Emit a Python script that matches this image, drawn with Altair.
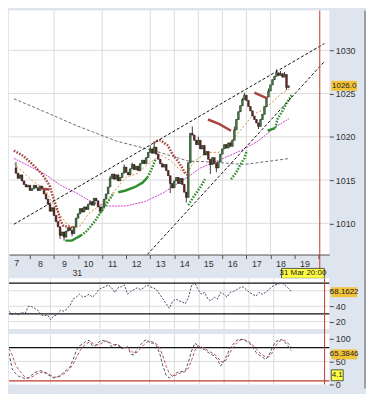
import altair as alt
import pandas as pd

# ---------------- data ----------------
BAR_START = 7 + 25 / 60          # first 5-minute bar, hours of 31 Mar
BAR_STEP = 5 / 60
FIRST_OPEN = 1016.4
closes = [
    1015.8, 1015.2, 1015.6, 1014.9, 1014.5, 1014.2, 1014.4, 1013.8, 1014.0, 1014.4,
    1014.1, 1013.8, 1014.3, 1014.0, 1013.4, 1012.8, 1012.2, 1011.4, 1011.8, 1010.9,
    1010.2, 1009.6, 1008.6, 1009.0, 1008.4, 1009.1, 1009.5, 1009.2, 1008.8, 1009.6,
    1010.6, 1011.1, 1011.7, 1011.3, 1011.9, 1011.6, 1012.2, 1012.5, 1012.1, 1012.9,
    1012.6, 1011.9, 1011.4, 1011.9, 1012.8, 1013.4, 1014.2, 1015.2, 1015.7, 1015.1,
    1015.6, 1014.9, 1015.3, 1015.8, 1016.5, 1015.9, 1015.6, 1016.3, 1016.8, 1016.2,
    1016.6, 1016.1, 1016.9, 1017.3, 1016.9, 1017.6, 1018.2, 1018.6, 1018.1, 1018.8,
    1018.0, 1017.4, 1016.9, 1016.5, 1016.8, 1016.1, 1015.5, 1014.6, 1014.1, 1014.9,
    1015.3, 1014.6, 1015.2, 1014.5, 1013.6, 1013.0, 1017.0, 1020.4, 1020.2, 1019.6,
    1019.1, 1019.6, 1018.6, 1019.0, 1017.9, 1018.3, 1017.4, 1016.8, 1017.6, 1016.9,
    1016.4, 1017.1, 1018.0, 1018.6, 1019.1, 1018.7, 1019.3, 1018.9, 1019.6, 1020.8,
    1022.0, 1022.9, 1023.6, 1024.3, 1024.8, 1024.2, 1023.5, 1023.0, 1022.4, 1022.0,
    1021.6, 1021.2, 1022.0, 1022.6, 1023.5, 1024.6, 1025.3, 1026.0, 1026.6, 1027.0,
    1027.4, 1027.1, 1027.3, 1026.9, 1027.2, 1025.7, 1025.9,
]
high_marks = {0: 1017.1, 47: 1015.5, 54: 1016.8, 58: 1017.0, 67: 1019.0, 69: 1019.4,
              88: 1021.2, 91: 1020.0, 109: 1021.2, 113: 1024.5, 114: 1025.1,
              126: 1025.6, 130: 1027.8, 132: 1027.6, 134: 1027.5}
low_marks = {22: 1008.2, 24: 1008.0, 28: 1008.5, 42: 1011.1, 77: 1013.5, 85: 1012.4,
             97: 1015.7, 100: 1015.9, 121: 1020.9, 135: 1025.4}

price_ticks = [1010, 1015, 1020, 1025, 1030]
hour_ticks = list(range(8, 21))
grid_hours = [9, 11, 13, 14, 15, 16, 17, 18]
cursor_hour = 20.05
first_hour_label = ("7", 7.45)

trend_upper_h, trend_upper_v = [7.333, 20.24], [1009.89, 1030.77]
trend_lower_h, trend_lower_v = [12.88, 20.24], [1006.39, 1028.69]

gray_h = [7.33, 8.61, 9.93, 11.60, 13.15, 14.58, 15.47, 16.91, 18.81]
gray_v = [1024.4, 1022.9, 1021.3, 1019.5, 1018.4, 1017.2, 1017.1, 1016.8, 1017.5]

magenta_h = [7.33, 7.84, 8.61, 9.27, 9.93, 10.43, 10.82, 11.21, 11.98, 12.76, 13.53,
             14.19, 14.58, 15.09, 15.86, 16.36, 16.91, 17.53, 18.19, 18.77]
magenta_v = [1017.5, 1016.8, 1015.7, 1014.4, 1013.5, 1012.7, 1012.2, 1012.0, 1012.0,
             1012.5, 1013.5, 1014.7, 1015.4, 1016.4, 1017.3, 1017.9, 1018.6, 1019.6,
             1021.1, 1022.1]

orange_h = [7.33, 8.11, 8.61, 9.00, 9.27, 9.58, 9.93, 10.12, 10.43, 10.82, 11.21, 11.60,
            11.98, 12.49, 12.88, 13.15, 13.42, 13.81, 14.19, 14.43, 14.58, 14.81, 15.20,
            15.47, 15.86, 16.25, 16.64, 16.91, 17.29, 17.68, 18.07, 18.46, 18.77]
orange_v = [1016.9, 1014.9, 1014.0, 1012.0, 1010.9, 1009.8, 1009.5, 1009.8, 1011.1,
            1011.9, 1012.5, 1014.0, 1015.3, 1015.8, 1016.8, 1017.3, 1017.9, 1017.3,
            1016.3, 1015.8, 1016.0, 1017.1, 1017.9, 1018.2, 1018.2, 1019.1, 1020.4,
            1021.3, 1022.6, 1023.1, 1024.0, 1025.0, 1025.5]

# parabolic SAR: (hours, values, drawn dense/solid?)
sar_red = [
    ([7.33, 7.72, 8.11, 8.50, 8.81, 9.00, 9.16, 9.27, 9.39, 9.58, 9.78],
     [1018.4, 1017.8, 1016.8, 1015.7, 1014.4, 1012.7, 1011.4, 1010.3, 1009.7, 1009.6, 1009.5], False),
    ([8.50, 8.81], [1014.0, 1013.9], True),
    ([13.15, 13.26, 13.42, 13.53, 13.73, 13.92, 14.12, 14.31, 14.43, 14.54],
     [1019.3, 1019.5, 1019.6, 1019.4, 1019.0, 1018.0, 1017.3, 1016.5, 1015.9, 1015.6], False),
    ([15.40, 15.86, 16.36], [1022.0, 1021.5, 1020.7], True),
    ([17.33, 17.88], [1025.1, 1024.4], True),
]
sar_green = [
    ([9.47, 9.74, 9.93, 10.12], [1008.0, 1008.0, 1008.3, 1008.6], True),
    ([10.12, 10.32, 10.51, 10.71, 10.90, 11.09, 11.29, 11.48],
     [1008.6, 1009.0, 1009.6, 1010.3, 1011.1, 1011.9, 1012.7, 1013.5], False),
    ([11.67, 11.98, 12.37, 12.68, 12.88], [1013.6, 1013.8, 1014.2, 1014.7, 1015.3], True),
    ([12.88, 13.03, 13.15, 13.22], [1015.3, 1016.1, 1016.9, 1017.4], False),
    ([14.58, 14.81, 15.09, 15.28], [1012.1, 1013.1, 1014.2, 1015.1], False),
    ([16.36, 16.56, 16.75, 16.91, 17.02], [1015.1, 1015.8, 1016.8, 1017.5, 1018.4], False),
    ([17.88, 18.19], [1020.7, 1021.0], True),
    ([18.19, 18.30, 18.50, 18.69, 18.88], [1021.0, 1022.1, 1023.0, 1024.0, 1024.8], False),
]

# oscillators, sampled every 7.75 minutes from the left edge
OSC_START = 7.333
OSC_STEP = 0.1292
rsi = [33.6, 28.8, 31.2, 28.8, 32.4, 30.0, 39.7, 39.7, 37.3, 34.8, 28.8, 27.6, 28.8, 22.7,
       27.6, 28.8, 34.8, 33.6, 36.1, 40.9, 49.4, 51.8, 55.5, 51.8, 53.0, 55.5, 51.8, 55.5,
       61.5, 63.9, 65.2, 67.6, 63.9, 57.9, 63.9, 65.2, 67.6, 55.5, 59.1, 61.5, 63.9, 61.5,
       63.9, 67.6, 65.2, 63.9, 61.5, 55.5, 49.4, 43.3, 37.3, 45.8, 49.4, 47.0, 45.8, 43.3,
       51.8, 67.6, 70.0, 61.5, 55.5, 57.9, 49.4, 47.0, 51.8, 49.4, 57.9, 55.5, 51.8, 57.9,
       59.1, 61.5, 63.9, 65.2, 61.5, 57.9, 55.5, 53.0, 57.9, 55.5, 57.9, 61.5, 65.2, 67.6,
       68.8, 70.0, 67.6, 63.9, 59.1]
stoch_k = [68, 34, 24, 18, 16, 12, 14, 20, 26, 28, 30, 26, 22, 18, 14, 16, 20, 26, 32, 38,
           54, 74, 84, 88, 94, 96, 84, 84, 92, 96, 94, 92, 82, 86, 88, 78, 80, 82, 66, 64,
           78, 86, 94, 98, 90, 90, 84, 68, 40, 20, 14, 18, 24, 28, 28, 30, 50, 74, 90, 84,
           78, 76, 70, 66, 62, 54, 40, 50, 64, 80, 88, 96, 98, 98, 94, 90, 82, 70, 64, 60,
           54, 62, 78, 92, 96, 98, 92, 84, 74]
stoch_d = [78, 64, 44, 32, 24, 16, 14, 16, 20, 24, 26, 28, 24, 20, 16, 16, 18, 22, 28, 34,
           44, 58, 72, 82, 88, 92, 90, 86, 86, 90, 94, 94, 88, 86, 84, 82, 80, 80, 74, 68,
           70, 78, 86, 92, 94, 92, 88, 80, 62, 40, 24, 18, 20, 24, 26, 28, 36, 54, 74, 84,
           82, 78, 74, 70, 66, 60, 50, 48, 56, 70, 82, 90, 96, 98, 96, 92, 86, 78, 70, 64,
           60, 60, 68, 82, 92, 96, 96, 90, 82]

price_box = ("1026.0", 1025.9)
rsi_box = ("58.1622", 58.16)
stoch_box = ("65.3846", 65.38)
stoch_box2 = ("4.1", 20.0)
cursor_label = "31 Mar 20:00"
day_label = ("31", 9.97)

# ---------------- layout / style ----------------
W, H_MAIN, H_SUB = 323, 246, 51
FONT = "Liberation Sans"
BG = "#dfe5ee"
GRID = "#dcdcdc"
GOLD = "#f2c23a"
YEL = "#ffff44"
RED_CURSOR = "#c0392b"
SAR_RED = "#a8453f"
SAR_GREEN = "#2f8f2f"

P_LO, P_HI = 1006.39, 1034.59
x_scale = alt.Scale(domain=[7.333, 20.24], nice=False, zero=False)
p_scale = alt.Scale(domain=[P_LO, P_HI], nice=False, zero=False)
rsi_scale = alt.Scale(domain=[10.6, 76.1], nice=False, zero=False)
sto_scale = alt.Scale(domain=[0, 110], nice=False, zero=False)

x_axis_main = alt.Axis(values=hour_ticks, labelExpr="datum.value >= 20 ? '' : format(datum.value, 'd')",
                       labelOffset=10, tickSize=4, labelPadding=1, grid=False,
                       domainColor="#555555", tickColor="#555555", labelColor="#333333",
                       labelFontSize=9, labelFont=FONT, title=None)
p_axis = alt.Axis(orient="right", values=price_ticks, format="d", tickSize=4, labelPadding=2,
                  grid=False, domain=False, tickColor="#444444", labelColor="#333333",
                  labelFontSize=9, labelFont=FONT, title=None)
rsi_axis = alt.Axis(orient="right", values=[60, 40, 20], labelExpr="datum.value == 60 ? '' : datum.label",
                    tickSize=4, labelPadding=2, grid=False, domain=False, tickColor="#444444",
                    labelColor="#333333", labelFontSize=9, labelFont=FONT, title=None)
sto_axis = alt.Axis(orient="right", values=[100, 50, 0], tickSize=4, labelPadding=2, grid=False,
                    domain=False, tickColor="#444444", labelColor="#333333", labelFontSize=9,
                    labelFont=FONT, title=None)


def X(axis, field="t"):
    return alt.X(f"{field}:Q", scale=x_scale, axis=axis)


def line(hours, values, color, yscale, yaxis, xaxis, width=1.0, dash=None):
    df = pd.DataFrame({"t": hours, "v": values, "o": list(range(len(hours)))})
    kw = dict(color=color, strokeWidth=width, clip=True, strokeCap="butt")
    if dash:
        kw["strokeDash"] = dash
    return alt.Chart(df).mark_line(**kw).encode(
        x=X(xaxis), y=alt.Y("v:Q", scale=yscale, axis=yaxis), order="o:Q")


def vgrid(xaxis):
    return alt.Chart(pd.DataFrame({"t": grid_hours})).mark_rule(color=GRID, strokeWidth=1).encode(x=X(xaxis))


def hlines(vals, color, yscale, yaxis, width=1.0):
    return alt.Chart(pd.DataFrame({"v": vals})).mark_rule(color=color, strokeWidth=width).encode(
        y=alt.Y("v:Q", scale=yscale, axis=yaxis))


def cursor(xaxis, y2):
    return alt.Chart(pd.DataFrame({"t": [cursor_hour]})).mark_rule(color=RED_CURSOR, strokeWidth=1).encode(
        x=X(xaxis), y=alt.value(0), y2=alt.value(y2))


def border(y2):
    return alt.Chart(pd.DataFrame({"a": [0]})).mark_rule(color="#555555", strokeWidth=1).encode(
        x=alt.value(W + 36), y=alt.value(0), y2=alt.value(y2))


def value_box(label, level, yscale, yaxis, height_px, fill, x0=2, x1=28, border_col=None):
    lo, hi = yscale.domain
    hpx = H_MAIN if yscale is p_scale else H_SUB
    half = height_px / 2 * (hi - lo) / hpx
    df = pd.DataFrame({"v": [level], "v1": [level - half], "v2": [level + half], "label": [label]})
    rkw = dict(color=fill)
    if border_col:
        rkw.update(stroke=border_col, strokeWidth=0.8)
    rect = alt.Chart(df).mark_rect(**rkw).encode(
        x=alt.value(W + x0), x2=alt.value(W + x1),
        y=alt.Y("v1:Q", scale=yscale, axis=yaxis), y2="v2:Q")
    txt = alt.Chart(df).mark_text(font=FONT, fontSize=8, color="#222222", align="center",
                                  baseline="middle").encode(
        x=alt.value(W + (x0 + x1) / 2), y=alt.Y("v:Q", scale=yscale, axis=yaxis), text="label:N")
    return rect + txt


# ---------------- main price panel ----------------
times = [BAR_START + i * BAR_STEP for i in range(len(closes))]
opens = [FIRST_OPEN] + closes[:-1]
highs = [max(o, c, high_marks.get(i, o)) for i, (o, c) in enumerate(zip(opens, closes))]
lows = [min(o, c, low_marks.get(i, o)) for i, (o, c) in enumerate(zip(opens, closes))]
cdf = pd.DataFrame({"t": times, "open": opens, "close": closes, "high": highs, "low": lows,
                    "dir": ["up" if c >= o else "down" for o, c in zip(opens, closes)]})

xa = x_axis_main
wicks = alt.Chart(cdf).mark_rule(color="#111111", strokeWidth=0.8).encode(
    x=X(xa), y=alt.Y("low:Q", scale=p_scale, axis=p_axis), y2="high:Q")
bodies = alt.Chart(cdf).mark_bar(size=1.7, stroke="#111111", strokeWidth=0.5).encode(
    x=X(xa), y=alt.Y("open:Q", scale=p_scale, axis=p_axis), y2="close:Q",
    color=alt.Color("dir:N", scale=alt.Scale(domain=["up", "down"], range=["#3f8f3f", "#7b2323"]),
                    legend=None))

main_layers = [
    vgrid(xa),
    hlines(price_ticks, GRID, p_scale, p_axis),
    line(gray_h, gray_v, "#6b6b6b", p_scale, p_axis, xa, 1.0, [3, 2]),
    line(magenta_h, magenta_v, "#cc3fcc", p_scale, p_axis, xa, 1.0, [2, 1]),
    line(orange_h, orange_v, "#e0893c", p_scale, p_axis, xa, 1.0, [2, 2]),
    wicks, bodies,
]
for h, v, solid in sar_red:
    main_layers.append(line(h, v, SAR_RED, p_scale, p_axis, xa, 2.5, None if solid else [1.6, 1.4]))
for h, v, solid in sar_green:
    main_layers.append(line(h, v, SAR_GREEN, p_scale, p_axis, xa, 2.5, None if solid else [1.6, 1.4]))
main_layers += [
    line(trend_upper_h, trend_upper_v, "#111111", p_scale, p_axis, xa, 1.0, [3, 2]),
    line(trend_lower_h, trend_lower_v, "#111111", p_scale, p_axis, xa, 1.0, [3, 2]),
    cursor(xa, H_MAIN + 24),
    border(H_MAIN + 24),
    value_box(price_box[0], price_box[1], p_scale, p_axis, 10, GOLD),
    alt.Chart(pd.DataFrame({"t": [first_hour_label[1]], "label": [first_hour_label[0]]})).mark_text(
        font=FONT, fontSize=9, color="#333333", baseline="top").encode(
        x=X(xa), y=alt.value(H_MAIN + 5), text="label:N"),
    alt.Chart(pd.DataFrame({"t": [day_label[1]], "label": [day_label[0]]})).mark_text(
        font=FONT, fontSize=9, color="#333333").encode(
        x=X(xa), y=alt.value(H_MAIN + 19), text="label:N"),
    alt.Chart(pd.DataFrame({"t1": [18.46], "t2": [20.24]})).mark_rect(
        color=YEL, stroke="#333333", strokeWidth=0.8).encode(
        x=X(xa, "t1"), x2="t2:Q", y=alt.value(H_MAIN + 14), y2=alt.value(H_MAIN + 24)),
    alt.Chart(pd.DataFrame({"t": [19.35], "label": [cursor_label]})).mark_text(
        font=FONT, fontSize=8, color="#111111").encode(
        x=X(xa), y=alt.value(H_MAIN + 19), text="label:N"),
]
main_chart = alt.layer(*main_layers).properties(width=W, height=H_MAIN)

# ---------------- RSI panel ----------------
osc_t = [OSC_START + k * OSC_STEP for k in range(len(rsi))]
rsi_chart = alt.layer(
    vgrid(None),
    hlines([60, 40, 20], GRID, rsi_scale, rsi_axis),
    hlines([70, 30], "#111111", rsi_scale, rsi_axis, 1.3),
    line(osc_t, rsi, "#3c4a66", rsi_scale, rsi_axis, None, 1.0, [2, 1.5]),
    cursor(None, H_SUB + 5),
    border(H_SUB + 5),
    value_box(rsi_box[0], rsi_box[1], rsi_scale, rsi_axis, 10, GOLD),
).properties(width=W, height=H_SUB)

# ---------------- Stochastic panel ----------------
sto_chart = alt.layer(
    vgrid(None),
    hlines([50], GRID, sto_scale, sto_axis),
    hlines([80], "#111111", sto_scale, sto_axis, 1.3),
    hlines([8], RED_CURSOR, sto_scale, sto_axis, 1.3),
    line(osc_t, stoch_d, "#c0504d", sto_scale, sto_axis, None, 1.0, [3, 2]),
    line(osc_t, stoch_k, "#4a5570", sto_scale, sto_axis, None, 1.0, [3, 2]),
    cursor(None, H_SUB),
    border(H_SUB + 4),
    value_box(stoch_box[0], stoch_box[1], sto_scale, sto_axis, 10, GOLD),
    value_box(stoch_box2[0], stoch_box2[1], sto_scale, sto_axis, 11, YEL, 2, 14, "#333333"),
).properties(width=W, height=H_SUB)

lower = alt.vconcat(rsi_chart, sto_chart, spacing=5, bounds="flush")
chart = alt.vconcat(main_chart, lower, spacing=24, bounds="flush").properties(
    padding={"left": 0, "top": 0, "right": 0, "bottom": 3},
    background=BG,
).configure_view(stroke=None, fill="white")

chart.save("out.html", embed_options={"renderer": "svg", "actions": False})
